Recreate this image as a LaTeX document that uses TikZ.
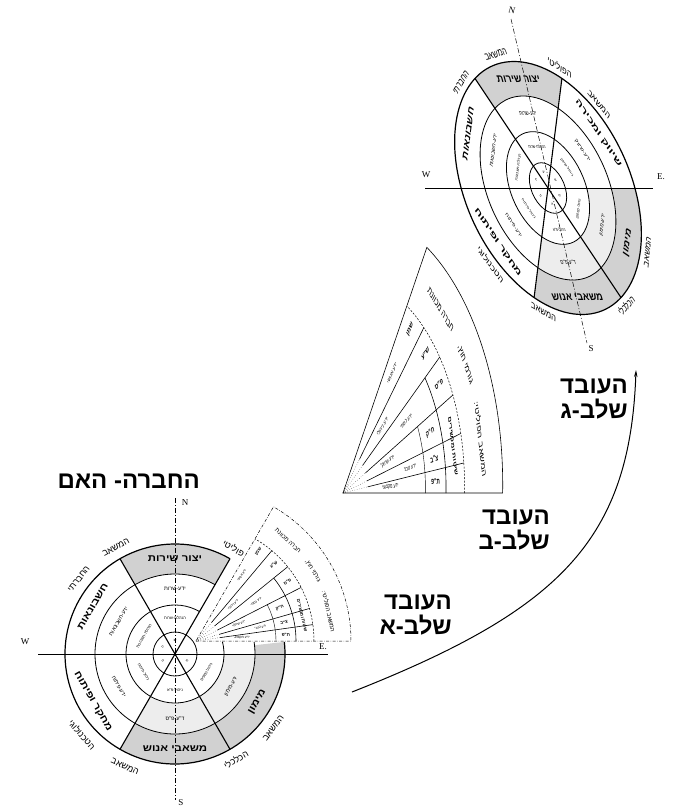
\documentclass[tikz,border=0pt]{standalone}
\usepackage{fontspec}
\setmainfont{Liberation Serif}
\newfontfamily\heb[Script=Hebrew]{Liberation Sans}
\newfontfamily\hebw[Script=Hebrew,FakeStretch=1.2]{Liberation Sans}
\TeXXeTstate=1
\newcommand\HebT[1]{{\heb\beginR #1\endR}}
\newcommand\HebW[1]{{\hebw\beginR #1\endR}}
\usetikzlibrary{arrows.meta}

\tikzset{
  bigl/.style={font=\heb\bfseries\fontsize{24}{25}\selectfont, align=right, inner sep=0pt, anchor=east},
  ringlab/.style={font=\hebw\bfseries\fontsize{9.5}{10}\selectfont, inner sep=0pt},
  lab2/.style={font=\heb\fontsize{5.5}{6}\selectfont, inner sep=0pt},
  lab3/.style={font=\heb\fontsize{4}{4.5}\selectfont, inner sep=0pt},
  lab4/.style={font=\heb\fontsize{3.5}{4}\selectfont, inner sep=0pt},
  outlab/.style={font=\heb\fontsize{9}{10}\selectfont, inner sep=0pt},
  dirlab/.style={font=\fontsize{9}{10}\selectfont, inner sep=0pt},
  fanlab/.style={font=\heb\fontsize{3.4}{4}\selectfont, inner sep=0pt},
  fanbox/.style={font=\heb\bfseries\fontsize{4.5}{5}\selectfont, inner sep=0pt},
  fanband/.style={font=\heb\fontsize{6}{7}\selectfont, inner sep=0pt},
  ring/.style={line width=0.8pt},
  outerring/.style={line width=1.2pt},
  secline/.style={line width=1.1pt},
  shadeA/.style={fill=black!18},
  shadeB/.style={fill=black!7},
  axisline/.style={line width=0.9pt},
  nsline/.style={line width=0.5pt, dash pattern=on 5pt off 2pt on 1pt off 2pt},
  fanray/.style={line width=0.6pt},
  fandot/.style={line width=0.4pt, dotted},
  fandash/.style={line width=0.5pt, dash pattern=on 2pt off 1.5pt},
  fanthin/.style={line width=0.4pt},
  fanedgeA/.style={line width=0.5pt, dash pattern=on 3pt off 1.5pt on 0.5pt off 1.5pt},
  fanedgeB/.style={line width=0.6pt},
  bigarrow/.style={line width=1pt, -{Stealth[length=7pt,width=3.5pt]}}
}

% shading of the rings, #1 = end angle of lower-right shaded sector
\newcommand\DiscShade[1]{%
  \fill[shadeA] (60:80) arc[start angle=60,end angle=120,radius=80] -- (120:110) arc[start angle=120,end angle=60,radius=110] -- cycle;
  \fill[shadeA] (240:80) arc[start angle=240,end angle=300,radius=80] -- (300:110) arc[start angle=300,end angle=240,radius=110] -- cycle;
  \fill[shadeA] (300:80) arc[start angle=300,end angle=#1,radius=80] -- (#1:110) arc[start angle=#1,end angle=300,radius=110] -- cycle;
  \fill[shadeB] (240:49) arc[start angle=240,end angle=360,radius=49] -- (360:80) arc[start angle=360,end angle=240,radius=80] -- cycle;
}

% labels of the five common sectors, #1 = name prefix
\newcommand\DiscLabels[1]{%
  \node[ringlab] (#1o1) at (90:95) {\HebW{יצור שירות}};
  \node[ringlab,rotate=60] (#1o2) at (150:95) {\HebW{חשבונאות}};
  \node[ringlab,rotate=-60] (#1o3) at (210:95) {\HebW{מחקר ופיתוח}};
  \node[ringlab] (#1o4) at (270:95) {\HebW{משאבי אנוש}};
  \node[ringlab,rotate=60] (#1o5) at (330:95) {\HebW{מימון}};
  \node[lab2] (#1s1) at (90:65) {\HebT{ידע-שרות}};
  \node[lab2,rotate=60] (#1s2) at (150:65) {\HebT{ידע-חשבונאות}};
  \node[lab2,rotate=-60] (#1s3) at (210:65) {\HebT{ידע-פיתוח}};
  \node[lab2] (#1s4) at (270:65) {\HebT{ד"ע-פ"ס}};
  \node[lab2,rotate=60] (#1s5) at (330:65) {\HebT{ידע-מימון}};
  \node[lab3] (#1t1) at (90:36) {\HebT{הנהלת-שרות}};
  \node[lab3,rotate=60] (#1t2) at (150:36) {\HebT{הנהלת-חשבונות}};
  \node[lab3,rotate=-60] (#1t3) at (210:36) {\HebT{ניהול-פיתוח}};
  \node[lab3] (#1t4) at (270:36) {\HebT{ניהול-פ"א}};
  \node[lab3,rotate=60] (#1t5) at (330:36) {\HebT{ניהול-כספים}};
  \node[lab4] (#1i1) at (90:14) {\HebT{יצ}};
  \node[lab4,rotate=60] (#1i2) at (150:14) {\HebT{ח}};
  \node[lab4,rotate=-60] (#1i3) at (210:14) {\HebT{פ}};
  \node[lab4] (#1i4) at (270:14) {\HebT{א}};
  \node[lab4,rotate=60] (#1i5) at (330:14) {\HebT{מ}};
}

% the 60-degree fan, #1 = edge style, #2 = name prefix
\newcommand\FanBody[2]{%
  \draw[#1] (0,0) -- (155,0) arc[start angle=0,end angle=60,radius=155] -- cycle;
  \draw[fandash] (118,0) arc[start angle=0,end angle=60,radius=118];
  \foreach \a in {8,16,27,39,50}{\draw[fandot] (0,0) -- (\a:24); \draw[fanray] (\a:24) -- (\a:118);}
  \draw[fanray] (100,0) arc[start angle=0,end angle=39,radius=100];
  \draw[fanthin] (80,0) arc[start angle=0,end angle=27,radius=80];
  \node[fanlab,rotate=4] (#2a1) at (4:46) {\HebT{ידע מקצועי}};
  \node[fanlab,rotate=12] (#2a2) at (12:66) {\HebT{ידע טכני}};
  \node[fanlab,rotate=21.5] (#2a3) at (21.5:46) {\HebT{ידע שיווקי}};
  \node[fanlab,rotate=33] (#2a4) at (33:72) {\HebT{ידע כספי}};
  \node[fanlab,rotate=44.5] (#2a5) at (44.5:52) {\HebT{ידע ניהולי}};
  \node[fanlab,rotate=55] (#2a6) at (55:80) {\HebT{ידע אנושי}};
  \node[fanbox,rotate=4] (#2b1) at (4:90) {\HebT{ת"פ}};
  \node[fanbox,rotate=12] (#2b2) at (12:90) {\HebT{צ"ב}};
  \node[fanbox,rotate=21.5] (#2b3) at (21.5:90) {\HebT{ח"ק}};
  \node[fanbox,rotate=33] (#2b4) at (33:109) {\HebT{פ"ס}};
  \node[fanbox,rotate=44.5] (#2b5) at (44.5:109) {\HebT{ש"ע}};
  \node[fanbox,rotate=55] (#2b6) at (55:109) {\HebT{שמן}};
  \node[fanbox,rotate=-76.5] (#2b7) at (13.5:109) {\HebT{שיטות ומכשירים}};
  \node[fanband,rotate=-77.5] (#2c1) at (12.5:136) {\HebT{המשאב הפוליטי:}};
  \node[fanband,rotate=-59] (#2c2) at (31:136) {\HebT{גורמי חוץ,}};
  \node[fanband,rotate=-42.5] (#2c3) at (47.5:136) {\HebT{חברה מכוונת}};
}

\begin{document}
\begin{tikzpicture}[x=1pt,y=-1pt]
\fill[white] (0,0) rectangle (676,809);
\path[use as bounding box] (0,0) rectangle (676,809);

% ===== stage C : elliptical disc =====
\begin{scope}[shift={(548pt,-188pt)},x=1pt,y=1pt,cm={0.79,0,-0.31,1.15,(0,0)},transform shape]
  \DiscShade{360}
  \draw[ring] (0,0) circle[radius=80];
  \draw[ring] (0,0) circle[radius=49];
  \draw[ring] (0,0) circle[radius=22];
  \draw[outerring] (0,0) circle[radius=110];
  \draw[secline] (120:110) -- (300:110);
  \draw[secline] (60:110) -- (240:110);
  \DiscLabels{e}
  \node[ringlab,rotate=-60] (eo6) at (30:95) {\HebW{שיווק ומכירה}};
  \node[lab2,rotate=-60] (es6) at (30:65) {\HebT{ידע-שיווק}};
  \node[lab3,rotate=-60] (et6) at (30:36) {\HebT{ניהול-שיווק}};
  \node[lab4,rotate=-60] (ei6) at (30:14) {\HebT{ש}};
  \node[outlab,rotate=10] (eL1) at (100:118) {\HebT{המשאב}};
  \node[outlab,rotate=39] (eL2) at (129:118) {\HebT{החברתי}};
  \node[outlab,rotate=-52] (eL3) at (38:118) {\HebT{המשאב}};
  \node[outlab,rotate=-28] (eL4) at (62:119) {\HebT{הפוליטי}};
  \node[outlab,rotate=336] (eL5) at (246:118) {\HebT{המשאב}};
  \node[outlab,rotate=304] (eL6) at (214:119) {\HebT{הטכנולוגי}};
  \node[outlab,rotate=62] (eL7) at (-28:118) {\HebT{המשאב}};
  \node[outlab,rotate=30] (eL8) at (-60:118) {\HebT{הכלכלי}};
\end{scope}
\coordinate (eW) at (425,188);
\coordinate (eE) at (653,188);
\coordinate (eN) at (511,19);
\coordinate (eS) at (587,343);
\draw[axisline] (eW) -- (eE);
\draw[nsline] (eN) -- (eS);
\node[dirlab] (eWl) at (426,175) {W};
\node[dirlab] (eEl) at (661,177) {E.};
\node[dirlab,rotate=-13] (eNl) at (512,10) {N};
\node[dirlab] (eSl) at (591,349) {S};

% ===== stage B : stretched fan =====
\begin{scope}[shift={(343pt,-493pt)},x=1pt,y=1pt,cm={1.03,0,0.03,1.83,(0,0)},transform shape]
  \FanBody{fanedgeB}{m}
\end{scope}

% ===== stage A : the mother company =====
\begin{scope}[shift={(175pt,-654pt)},x=1pt,y=1pt]
  \DiscShade{366.3}
  \draw[ring] (60:80) arc[start angle=60,end angle=368.6,radius=80];
  \draw[ring] (60:49) arc[start angle=60,end angle=374.2,radius=49];
  \draw[ring] (0,0) circle[radius=22];
  \draw[outerring] (60:110) arc[start angle=60,end angle=366.3,radius=110];
  \draw[secline] (120:110) -- (300:110);
  \draw[secline] (60:110) -- (240:110);
  \DiscLabels{c}
  \node[outlab,rotate=29] (cL1) at (119:122) {\HebT{המשאב}};
  \node[outlab,rotate=52] (cL2) at (142:122) {\HebT{החברתי}};
  \node[outlab,rotate=-29] (cL3) at (61:121) {\HebT{פוליטי}};
  \node[outlab,rotate=336] (cL5) at (246:123) {\HebT{המשאב}};
  \node[outlab,rotate=311] (cL6) at (221:123) {\HebT{הטכנולוגי}};
  \node[outlab,rotate=53] (cL7) at (323:123) {\HebT{המשאב}};
  \node[outlab,rotate=30] (cL8) at (300:122) {\HebT{הכלכלי}};
  \begin{scope}[shift={(21pt,13pt)}]
    \FanBody{fanedgeA}{f}
  \end{scope}
\end{scope}
\coordinate (cW) at (38,654);
\coordinate (cE) at (328,654);
\coordinate (cN) at (175,498);
\coordinate (cS) at (175,800);
\draw[axisline] (cW) -- (cE);
\draw[nsline] (cN) -- (cS);
\node[dirlab] (cWl) at (25,642) {W};
\node[dirlab] (cEl) at (323,647) {E.};
\node[dirlab] (cNl) at (185,503) {N};
\node[dirlab] (cSl) at (181,803) {S};

% ===== titles =====
\node[bigl] (title) at (200,481) {\HebT{החברה- האם}};
\node[bigl] (stC) at (628,399) {\HebT{העובד}\\\HebT{שלב-ג}};
\node[bigl] (stB) at (550,530) {\HebT{העובד}\\\HebT{שלב-ב}};
\node[bigl] (stA) at (452,615) {\HebT{העובד}\\\HebT{שלב-א}};

% ===== growth arrow =====
\coordinate (arcS) at (352,692);
\coordinate (arcE) at (636,370);
\draw[bigarrow] (arcS) .. controls (560,610) and (630,540) .. (arcE);
\end{tikzpicture}
\end{document}
